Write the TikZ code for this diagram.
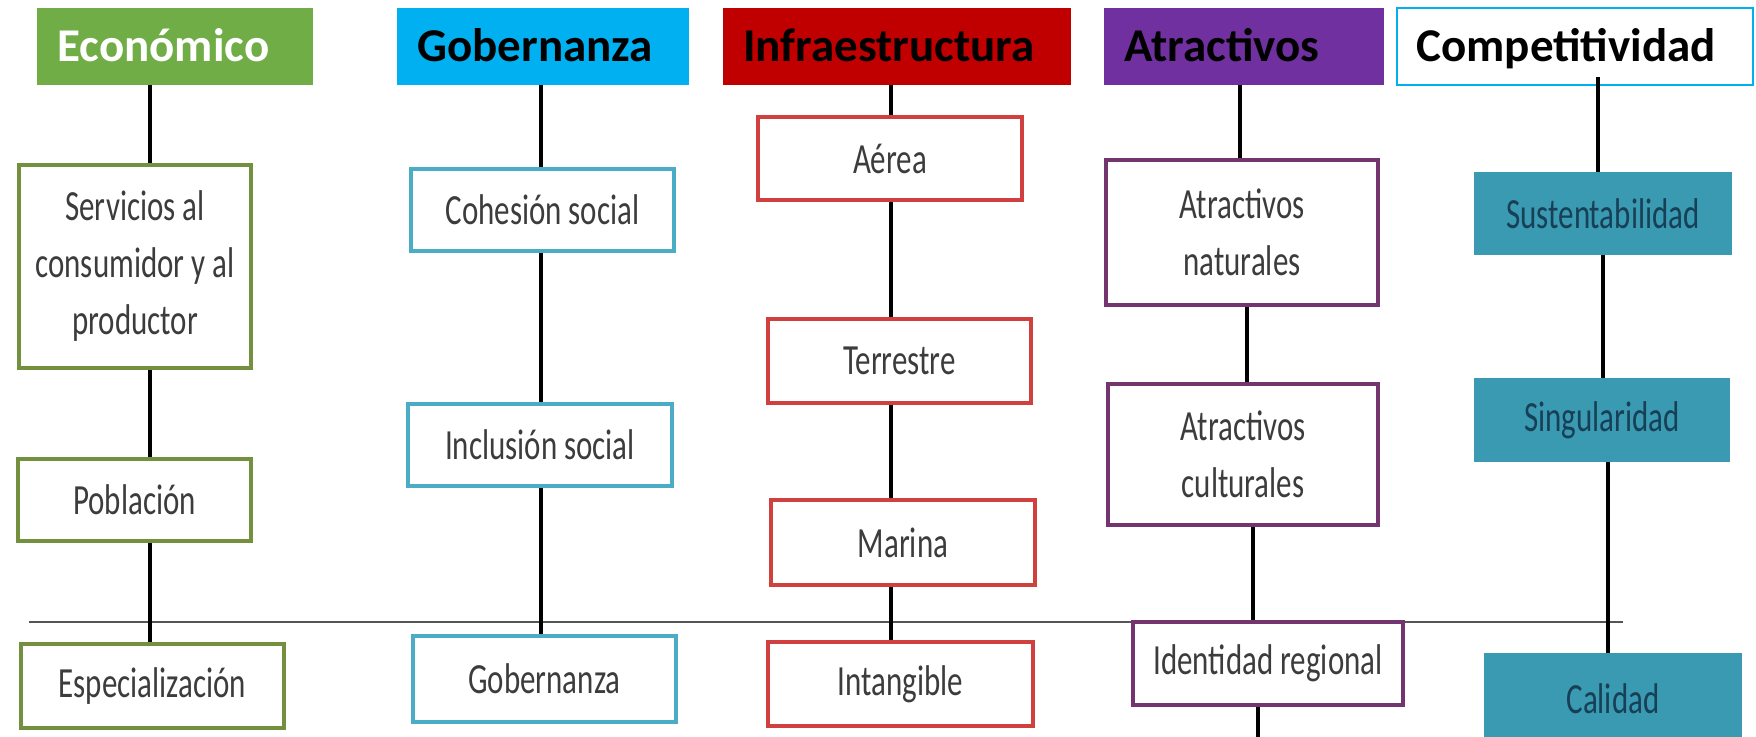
\documentclass[tikz,border=0pt]{standalone}
\usepackage{fontspec}
\setmainfont{Carlito}
\newfontfamily\condfont{Carlito}[FakeStretch=0.72]
\definecolor{ecoH}{HTML}{70AD47}
\definecolor{ecoB}{HTML}{73903E}
\definecolor{gobH}{HTML}{00B0F0}
\definecolor{gobB}{HTML}{4BACC6}
\definecolor{infH}{HTML}{C00000}
\definecolor{infB}{HTML}{D0403F}
\definecolor{atrH}{HTML}{7030A0}
\definecolor{atrB}{HTML}{74346F}
\definecolor{comF}{HTML}{3A9AB2}
\definecolor{comT}{HTML}{173F55}
\definecolor{txtG}{HTML}{3C3C3C}
\definecolor{hlineC}{HTML}{555555}
\tikzset{
  hdr/.style={anchor=west, inner xsep=10pt, inner ysep=0pt, minimum height=38.5pt,
    align=left, font=\fontsize{23.5pt}{28pt}\selectfont\bfseries,
    text height=15.1pt, text depth=0pt},
  ibox/.style={draw, line width=2.3pt, fill=white, inner sep=0pt, align=center,
    text=txtG, font=\condfont\fontsize{21.5pt}{28.5pt}\selectfont},
  tbox/.style={fill=comF, inner sep=0pt, align=center,
    text=comT, font=\condfont\fontsize{21.5pt}{28.5pt}\selectfont},
  conn/.style={line width=1.7pt, black},
  hline/.style={line width=1.2pt, hlineC}
}
\begin{document}
\begin{tikzpicture}[x=0.5pt,y=-0.5pt]
\fill[white] (0,0) rectangle (1756,736);
\useasboundingbox (0,0) rectangle (1756,736);
\clip (0,0) rectangle (1756,736);

% horizontal rule
\coordinate (hl1) at (29,622);
\coordinate (hl2) at (1623,622);
\draw[hline] (hl1) -- (hl2);

% headers
\node[hdr, fill=ecoH, text=white, text width=118pt] (eco) at (37,46.5) {Económico};
\node[hdr, fill=gobH, text=black, text width=126pt] (gob) at (397,46.5) {Gobernanza};
\node[hdr, fill=infH, text=black, text width=154pt] (inf) at (723,46.5) {Infraestructura};
\node[hdr, fill=atrH, text=black, text width=120pt] (atr) at (1104,46.5) {Atractivos};
\node[hdr, fill=white, draw=gobH, line width=1pt, text=black, text width=158pt] (com) at (1395.5,46.5) {Competitividad};

% Economico column
\node[ibox, draw=ecoB, minimum width=116pt, minimum height=101.5pt] (serv) at (135,266.5) {Servicios al\\consumidor y al\\productor};
\node[ibox, draw=ecoB, minimum width=116.5pt, minimum height=41pt] (pob) at (134.5,500) {Población};
\node[ibox, draw=ecoB, minimum width=131.5pt, minimum height=42pt] (esp) at (152.5,686) {Especialización};

% Gobernanza column
\node[ibox, draw=gobB, minimum width=131.5pt, minimum height=41pt] (coh) at (542.5,210) {Cohesión social};
\node[ibox, draw=gobB, minimum width=132pt, minimum height=41pt] (inc) at (540,445) {Inclusión social};
\node[ibox, draw=gobB, minimum width=131.5pt, minimum height=43pt] (gbz) at (544.5,679) {Gobernanza};

% Infraestructura column
\node[ibox, draw=infB, minimum width=132pt, minimum height=41.5pt] (aer) at (890,158.5) {Aérea};
\node[ibox, draw=infB, minimum width=131.5pt, minimum height=42pt] (ter) at (899.5,361) {Terrestre};
\node[ibox, draw=infB, minimum width=132pt, minimum height=42.5pt] (mar) at (903,542.5) {Marina};
\node[ibox, draw=infB, minimum width=132.5pt, minimum height=42pt] (int) at (900.5,684) {Intangible};

% Atractivos column
\node[ibox, draw=atrB, minimum width=136pt, minimum height=72.5pt] (nat) at (1242,232.5) {Atractivos\\naturales};
\node[ibox, draw=atrB, minimum width=135pt, minimum height=70.5pt] (cul) at (1243,454.5) {Atractivos\\culturales};
\node[ibox, draw=atrB, minimum width=135pt, minimum height=41.5pt] (ide) at (1268,663.5) {Identidad regional};

% Competitividad column
\node[tbox, minimum width=129pt, minimum height=41.5pt] (sus) at (1603,213.5) {Sustentabilidad};
\node[tbox, minimum width=128pt, minimum height=42pt] (sin) at (1602,420) {Singularidad};
\node[tbox, minimum width=129pt, minimum height=46pt] (cal) at (1613,699) {Calidad};

% column x positions
\coordinate (xe) at (150,0);
\coordinate (xg) at (541,0);
\coordinate (xi) at (891,0);
\coordinate (xa1) at (1240,0);
\coordinate (xa2) at (1247,0);
\coordinate (xa3) at (1253,0);
\coordinate (xa4) at (1258,0);
\coordinate (atrEnd) at (1258,745);
\coordinate (xc1) at (1598,0);
\coordinate (xc2) at (1603,0);
\coordinate (xc3) at (1608,0);

% connectors
\draw[conn] (eco.south -| xe) -- (serv.north -| xe);
\draw[conn] (serv.south -| xe) -- (pob.north -| xe);
\draw[conn] (pob.south -| xe) -- (esp.north -| xe);

\draw[conn] (gob.south -| xg) -- (coh.north -| xg);
\draw[conn] (coh.south -| xg) -- (inc.north -| xg);
\draw[conn] (inc.south -| xg) -- (gbz.north -| xg);

\draw[conn] (inf.south -| xi) -- (aer.north -| xi);
\draw[conn] (aer.south -| xi) -- (ter.north -| xi);
\draw[conn] (ter.south -| xi) -- (mar.north -| xi);
\draw[conn] (mar.south -| xi) -- (int.north -| xi);

\draw[conn] (atr.south -| xa1) -- (nat.north -| xa1);
\draw[conn] (nat.south -| xa2) -- (cul.north -| xa2);
\draw[conn] (cul.south -| xa3) -- (ide.north -| xa3);
\draw[conn] (ide.south -| xa4) -- (atrEnd);

\draw[conn] ([yshift=4.5pt]com.south -| xc1) -- (sus.north -| xc1);
\draw[conn] (sus.south -| xc2) -- (sin.north -| xc2);
\draw[conn] (sin.south -| xc3) -- (cal.north -| xc3);
\end{tikzpicture}
\end{document}
